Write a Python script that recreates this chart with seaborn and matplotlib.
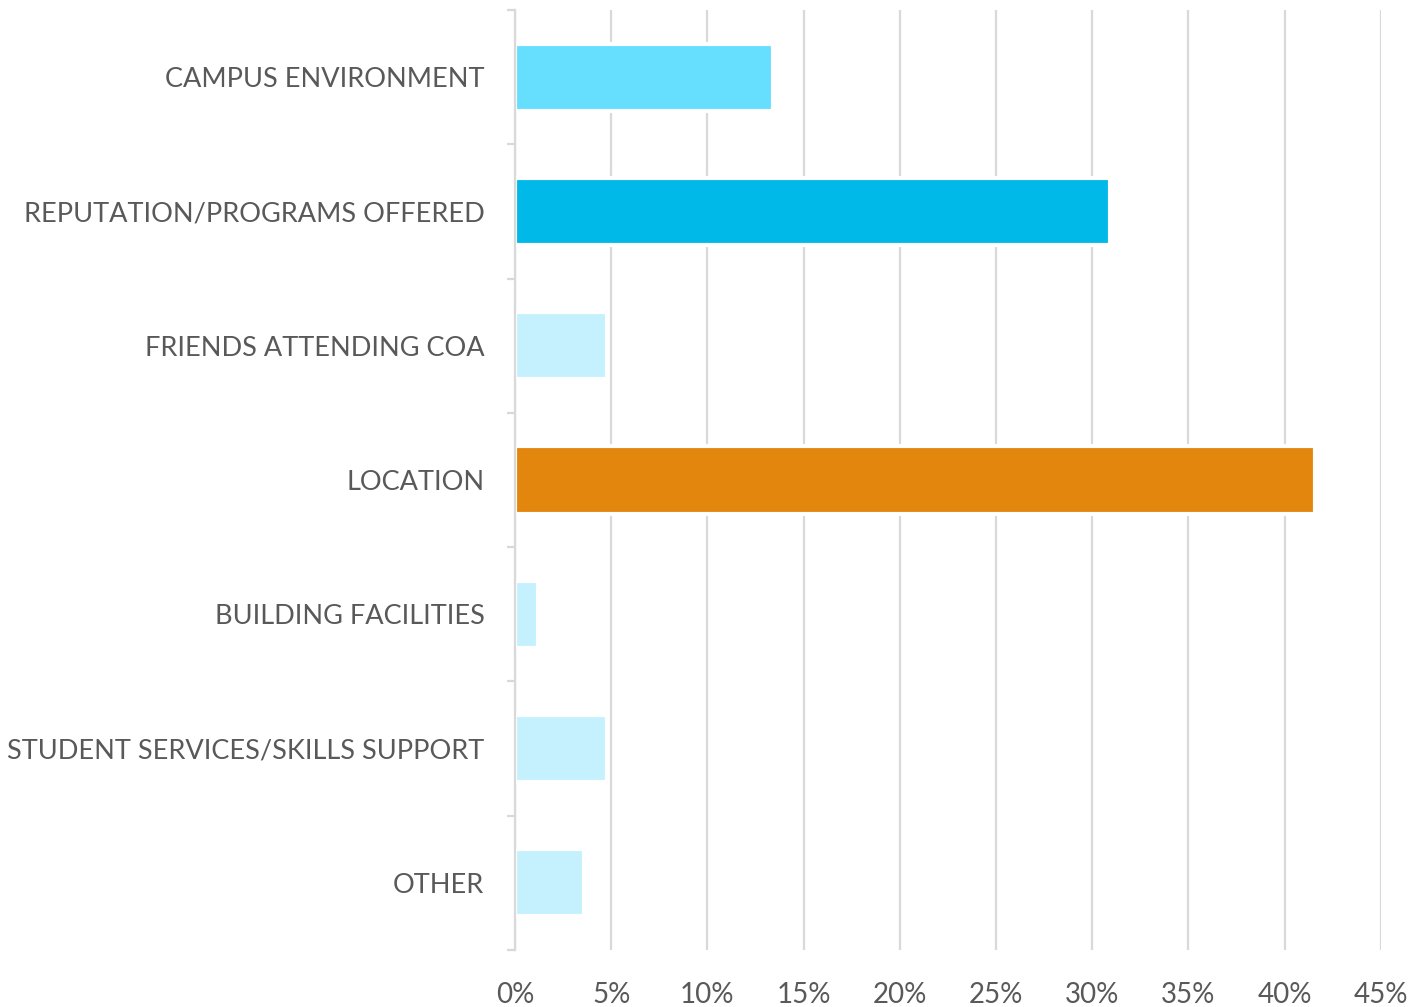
import matplotlib
matplotlib.use("Agg")
import matplotlib.pyplot as plt
import seaborn as sns
import pandas as pd
import numpy as np
from matplotlib.ticker import FixedLocator, FuncFormatter

categories = ["CAMPUS ENVIRONMENT", "REPUTATION/PROGRAMS OFFERED", "FRIENDS ATTENDING COA",
              "LOCATION", "BUILDING FACILITIES", "STUDENT SERVICES/SKILLS SUPPORT", "OTHER"]
values = [13.4, 30.9, 4.8, 41.6, 1.2, 4.8, 3.6]
colors = ["#66DFFF", "#00B9E8", "#C5F1FF", "#E3860E", "#C5F1FF", "#C5F1FF", "#C5F1FF"]
xticks = [0, 5, 10, 15, 20, 25, 30, 35, 40, 45]

sns.set_theme(style="white")
plt.rcParams['font.family'] = ['Lato', 'DejaVu Sans']

df = pd.DataFrame({"cat": categories, "val": values})

fig = plt.figure(figsize=(14.14, 10.07), dpi=100)
ax = fig.add_axes([0.3642, 0.0566, 0.6124, 0.9335])

sns.barplot(data=df, x="val", y="cat", hue="cat", palette=colors, legend=False,
            width=0.5, ax=ax, zorder=2, saturation=1)
for p in ax.patches:
    p.set_edgecolor("white")
    p.set_linewidth(3)

ax.set_xlim(0, 45)
ax.set_ylim(len(categories) - 0.5, -0.5)
ax.set_xticks(xticks)
ax.xaxis.set_major_formatter(FuncFormatter(lambda v, _: f"{int(v)}%"))
ax.grid(axis="x", color="#D9D9D9", linewidth=1.6, zorder=0)
ax.set_axisbelow(True)
ax.set_xlabel("")
ax.set_ylabel("")

for s in ["top", "right", "bottom"]:
    ax.spines[s].set_visible(False)
ax.spines["left"].set_color("#D9D9D9")
ax.spines["left"].set_linewidth(1.6)

ax.tick_params(axis="x", length=0, pad=23, labelsize=20, labelcolor="#595959")
ax.tick_params(axis="y", which="major", length=0, pad=22, labelsize=19.5, labelcolor="#595959")
ax.yaxis.set_minor_locator(FixedLocator(np.arange(-0.5, len(categories), 1.0)))
ax.tick_params(axis="y", which="minor", length=6, width=1.6, color="#D9D9D9", left=True)

fig.savefig("out.png", dpi=100)
